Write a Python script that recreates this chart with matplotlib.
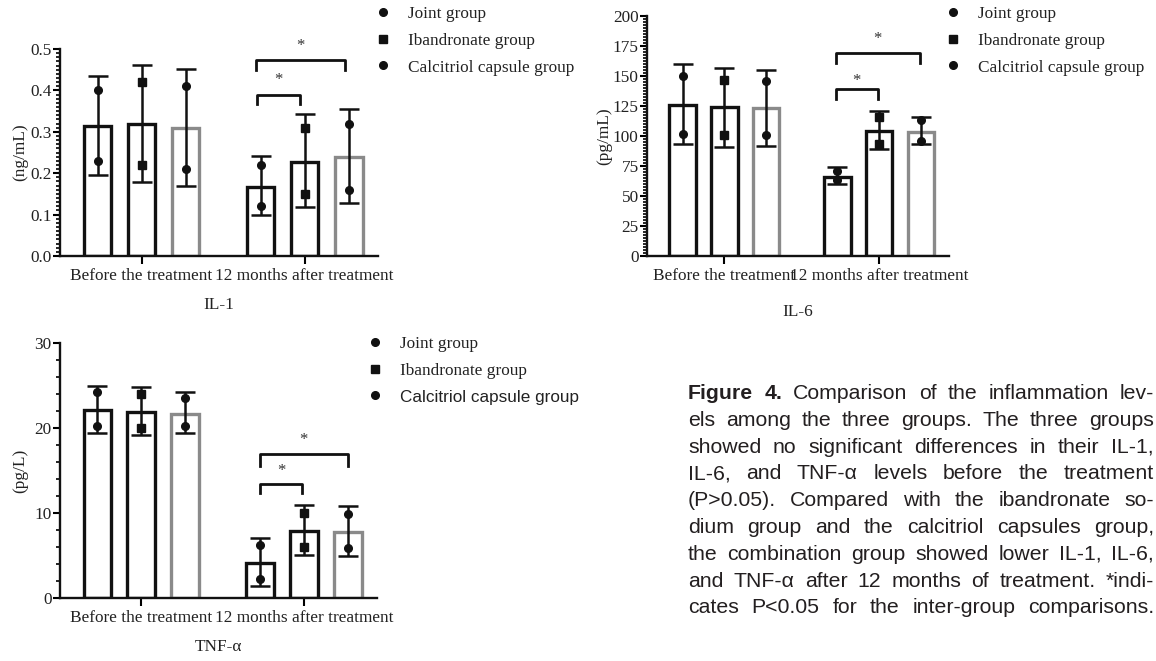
import numpy as np
import matplotlib
matplotlib.use('Agg')
import matplotlib.pyplot as plt
from matplotlib.lines import Line2D
from matplotlib.ticker import MultipleLocator, FormatStrFormatter

W, H = 1156, 661
SERIF = 'Liberation Serif'
SANS = 'Liberation Sans'
FS = 12.4

# order of bars: before (joint, ibandronate, calcitriol), after (joint, ibandronate, calcitriol)
periods = ['Before the treatment', '12 months after treatment']
groups = ['Joint group', 'Ibandronate group', 'Calcitriol capsule group']

il1_mean = [0.314, 0.319, 0.309, 0.167, 0.228, 0.238]
il1_hi = [0.435, 0.462, 0.451, 0.241, 0.343, 0.354]
il1_lo = [0.195, 0.178, 0.169, 0.100, 0.118, 0.128]
il1_pts = [(0.40, 0.23), (0.42, 0.22), (0.41, 0.21), (0.22, 0.12), (0.31, 0.15), (0.32, 0.16)]

il6_mean = [126, 124, 123, 66, 104, 103]
il6_hi = [160, 157, 155, 74, 121, 116]
il6_lo = [93, 91, 92, 60, 89, 93]
il6_pts = [(150, 102), (147, 101), (146, 101), (71, 63), (116, 93), (113, 96)]

tnf_mean = [22.1, 21.9, 21.7, 4.1, 7.9, 7.8]
tnf_hi = [25.0, 24.8, 24.2, 7.1, 10.9, 10.8]
tnf_lo = [19.4, 19.2, 19.4, 1.4, 5.1, 5.0]
tnf_pts = [(24.2, 20.2), (24.0, 20.0), (23.5, 20.2), (6.2, 2.2), (10.0, 6.0), (9.9, 5.9)]

caption = [
    'Figure 4. Comparison of the inflammation lev-',
    'els among the three groups. The three groups',
    'showed no significant differences in their IL-1,',
    'IL-6, and TNF-α levels before the treatment',
    '(P>0.05). Compared with the ibandronate so-',
    'dium group and the calcitriol capsules group,',
    'the combination group showed lower IL-1, IL-6,',
    'and TNF-α after 12 months of treatment. *indi-',
    'cates P<0.05 for the inter-group comparisons.',
]

markers = ['o', 's', 'o']
edge_colors = ['#111111', '#111111', '#8a8a8a']
offsets = [-0.27, 0.0, 0.27]


def px_axes(fig, left, right, top, bottom):
    return fig.add_axes([left / W, 1 - bottom / H, (right - left) / W, (bottom - top) / H])


def draw_panel(ax, mean, lo, hi, pts, ymax, major, minor, fmt, ylabel, xlabel,
               brackets, ylab_x):
    xs = []
    for p in range(2):
        for g in range(3):
            xs.append(p + offsets[g])
    for i, x in enumerate(xs):
        g = i % 3
        ax.bar(x, mean[i], width=0.17, facecolor='white', edgecolor=edge_colors[g],
               linewidth=2.4, zorder=2)
        ax.errorbar(x, mean[i], yerr=[[mean[i] - lo[i]], [hi[i] - mean[i]]],
                    color='#111111', lw=1.8, capsize=7, capthick=1.8, zorder=3)
        ax.plot([x, x], pts[i], linestyle='none', marker=markers[g], ms=5.5,
                color='#111111', zorder=4)

    # significance brackets: (x left, x right, y top, y bottom, star y)
    for xl, xr, yt, yb, ys in brackets:
        ax.plot([xl, xl, xr, xr], [yb, yt, yt, yb], color='#111111', lw=2.0,
                clip_on=False, zorder=3)
        ax.text((xl + xr) / 2, ys, '*', ha='center', va='center', fontsize=12,
                family=SERIF, color='#333333', clip_on=False)

    ax.set_xlim(-0.5, 1.45)
    ax.set_ylim(0, ymax)
    ax.set_xticks([0, 1])
    ax.set_xticklabels(periods, family=SERIF, fontsize=FS, color='#222222')
    ax.yaxis.set_major_locator(MultipleLocator(major))
    ax.yaxis.set_minor_locator(MultipleLocator(minor))
    ax.yaxis.set_major_formatter(FormatStrFormatter(fmt))
    for lab in ax.get_yticklabels():
        lab.set_family(SERIF)
        lab.set_fontsize(FS)
        lab.set_color('#222222')
    ax.tick_params(axis='y', which='major', length=5, width=1.5, pad=1)
    ax.tick_params(axis='y', which='minor', length=3, width=1.2)
    ax.tick_params(axis='x', length=6, width=1.5, pad=3)
    for s in ['top', 'right']:
        ax.spines[s].set_visible(False)
    for s in ['left', 'bottom']:
        ax.spines[s].set_linewidth(1.7)
        ax.spines[s].set_color('#111111')
    ax.set_ylabel(ylabel, family=SERIF, fontsize=FS, color='#222222')
    ax.yaxis.set_label_coords(ylab_x, 0.5)
    ax.set_xlabel(xlabel, family=SERIF, fontsize=FS, color='#222222')
    ax.xaxis.set_label_coords(0.5, -0.2)


def add_legend(ax, mx, ys, sans_last=False):
    handles = [Line2D([], [], linestyle='none', marker=m, ms=5.5, color='#111111')
               for m in markers]
    leg = ax.legend(handles, groups, loc='upper left',
                    bbox_to_anchor=((mx - 7) / W, 1 - (ys - 9) / H),
                    bbox_transform=ax.figure.transFigure, frameon=False,
                    borderpad=0, borderaxespad=0, handlelength=0.85,
                    handletextpad=1.0, labelspacing=0.62,
                    prop={'family': SERIF, 'size': FS})
    for t in leg.get_texts():
        t.set_color('#222222')
    if sans_last:
        leg.get_texts()[2].set_family(SANS)
        leg.get_texts()[2].set_fontsize(12.3)


def justify(fig, lines, x0, x1, y0, dy, size):
    r = fig.canvas.get_renderer()
    for i, line in enumerate(lines):
        words = line.split(' ')
        y = 1 - (y0 + i * dy) / H
        texts = []
        for j, w in enumerate(words):
            bold = i == 0 and j < 2
            texts.append(fig.text(0, y, w, fontsize=size, family=SANS,
                                  fontweight='bold' if bold else 'normal',
                                  color='#231f20', va='baseline'))
        widths = [t.get_window_extent(r).width for t in texts]
        gap = (x1 - x0 - sum(widths)) / (len(words) - 1)
        x = x0
        for t, w in zip(texts, widths):
            t.set_x(x / W)
            x += w + gap


fig = plt.figure(figsize=(W / 100, H / 100), dpi=100)

ax1 = px_axes(fig, 60, 378, 49, 256)
draw_panel(ax1, il1_mean, il1_lo, il1_hi, il1_pts, 0.5, 0.1, 0.01, '%.1f',
           '(ng/mL)', 'IL-1',
           [(0.70, 1.25, 0.473, 0.449, 0.507), (0.71, 0.97, 0.389, 0.367, 0.425)],
           -0.10)
add_legend(ax1, 383, 15)

ax2 = px_axes(fig, 647, 949, 16, 256)
draw_panel(ax2, il6_mean, il6_lo, il6_hi, il6_pts, 200, 25, 2.5, '%d',
           '(pg/mL)', 'IL-6',
           [(0.72, 1.26, 169, 161, 181), (0.72, 0.99, 139, 131, 146)],
           -0.115)
add_legend(ax2, 953, 15)

ax3 = px_axes(fig, 60, 377, 343, 598)
draw_panel(ax3, tnf_mean, tnf_lo, tnf_hi, tnf_pts, 30, 10, 2, '%d',
           '(pg/L)', 'TNF-α',
           [(0.73, 1.27, 17.0, 15.5, 18.6), (0.73, 0.99, 13.4, 12.3, 15.0)],
           -0.10)
ax3.xaxis.set_label_coords(0.5, -0.16)
add_legend(ax3, 375, 345, sans_last=True)

justify(fig, caption, 688, 1154, 399, 26.8, 15.3)

fig.savefig('out.png', dpi=100)
